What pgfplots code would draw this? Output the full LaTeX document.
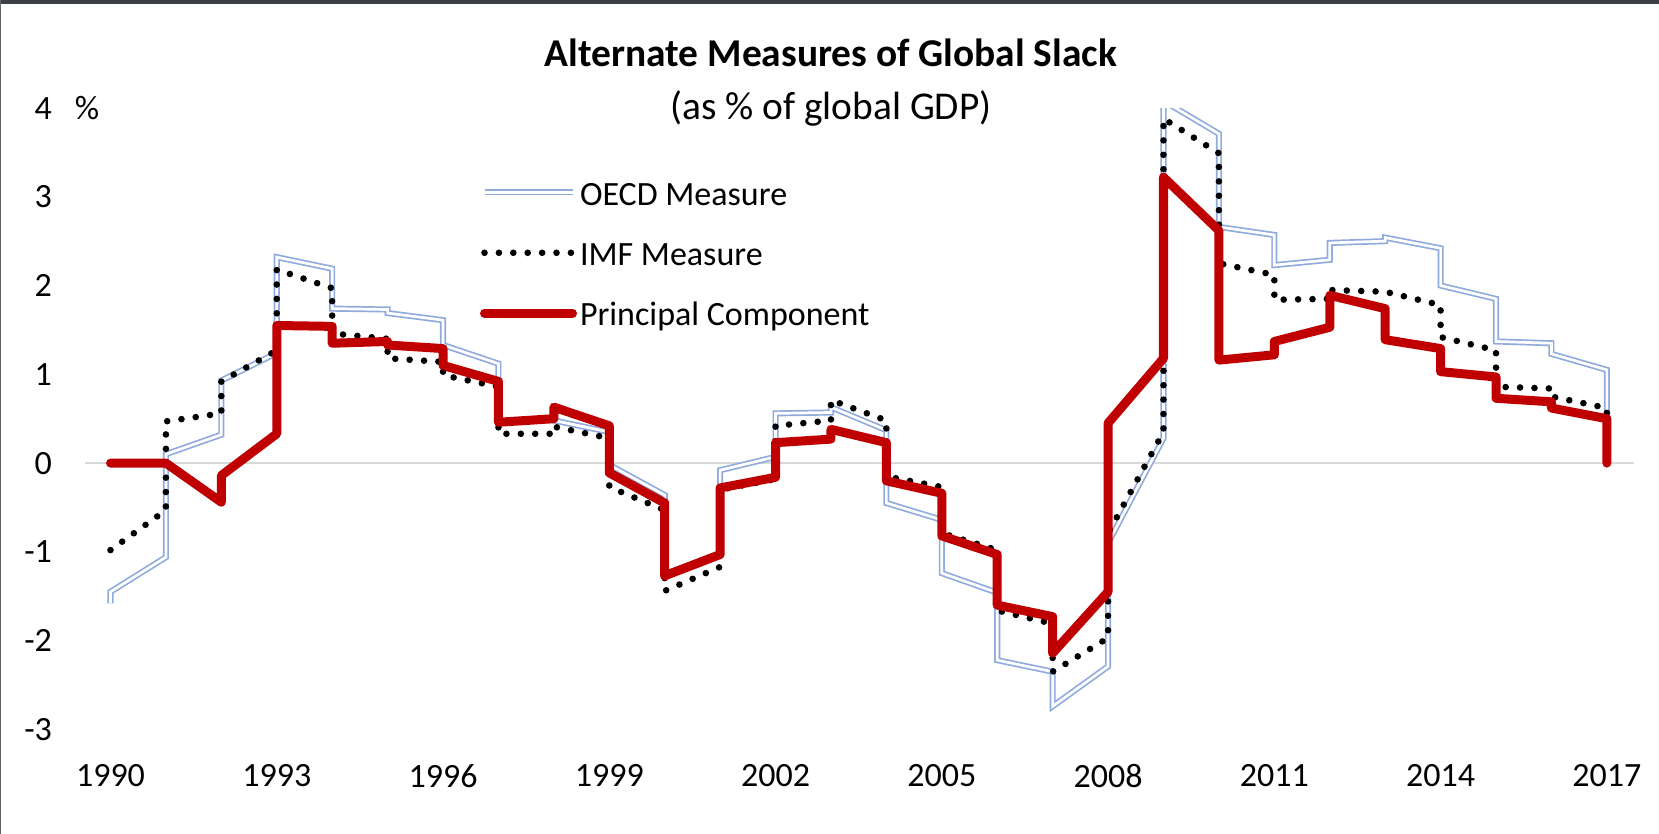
\documentclass[border=0pt]{standalone}
\usepackage{fontspec}
\setmainfont{Carlito}
\usepackage{pgfplots}
\pgfplotsset{compat=1.18}
\definecolor{pcred}{RGB}{192,0,0}
\definecolor{oecdblue}{RGB}{143,170,220}
\definecolor{zerogray}{RGB}{217,217,217}
\definecolor{band}{RGB}{60,63,70}
\begin{document}
\begin{tikzpicture}
\begin{axis}[
  scale only axis,
  width=774.5pt, height=310.7pt,
  xmin=1989.54, xmax=2017.49,
  ymin=-3, ymax=4,
  axis line style={draw=none},
  tick style={draw=none},
  xtick={1990,1993,1996,1999,2002,2005,2008,2011,2014,2017},
  xticklabels={1990,1993,1996,1999,2002,2005,2008,2011,2014,2017},
  ytick={-3,-2,-1,0,1,2,3,4},
  yticklabels={-3,-2,-1,0,1,2,3,{4\rlap{\hspace{11.5pt}\%}}},
  tick label style={font=\fontsize{17}{20}\selectfont},
  xticklabel style={yshift=-14pt},
  yticklabel style={xshift=-13pt},
  extra y ticks={0},
  extra y tick labels={},
  extra y tick style={grid=major, major grid style={draw=zerogray, line width=1pt}},
  legend style={at={(0.2550,0.879)}, anchor=north west, draw=none, fill=none,
    inner sep=0pt, outer sep=0pt, row sep=15.2pt, column sep=1.5pt,
    nodes={inner sep=0pt, text height=11pt, text depth=4pt, font=\fontsize{17}{20}\selectfont}},
  legend cell align=left,
  legend image code/.code={\path (0pt,0pt); \draw[#1] (0pt,2.9pt) -- (44pt,2.9pt);},
]
\coordinate (o) at (rel axis cs:0,0);
% OECD Measure
\addplot[draw=oecdblue, line width=0.85pt, double=white, double distance=1.35pt] coordinates {
(1990,-1.58) (1990,-1.45) (1991,-1.06) (1991,0.10) (1992,0.32) (1992,0.93) (1993,1.24)
(1993,2.32) (1994,2.19) (1994,1.74) (1995,1.73) (1995,1.69) (1996,1.61) (1996,1.33)
(1997,1.12) (1997,0.47) (1998,0.50) (1998,0.48) (1999,0.35) (1999,-0.02) (2000,-0.36)
(2000,-1.25) (2001,-1.02) (2001,-0.08) (2002,0.07) (2002,0.56) (2003,0.57) (2003,0.63)
(2004,0.37) (2004,-0.45) (2005,-0.64) (2005,-1.24) (2006,-1.46) (2006,-2.22) (2007,-2.35)
(2007,-2.74) (2008,-2.29) (2008,-0.90) (2009,0.28) (2009,4.08) (2010,3.71) (2010,2.66)
(2011,2.57) (2011,2.23) (2012,2.29) (2012,2.48) (2013,2.50) (2013,2.54) (2014,2.42)
(2014,2.00) (2015,1.85) (2015,1.37) (2016,1.35) (2016,1.23) (2017,1.05) (2017,0.50)
};
\addlegendentry{OECD Measure}
% IMF Measure
\addplot[draw=black, line width=3.3pt, line cap=round, dash pattern=on 0pt off 7.2pt] coordinates {
(1990,-0.98) (1991,-0.53) (1991,0.47) (1992,0.56) (1992,0.92) (1993,1.27) (1993,2.18)
(1994,1.97) (1994,1.46) (1995,1.40) (1995,1.18) (1996,1.14) (1996,0.99) (1997,0.86)
(1997,0.33) (1998,0.33) (1998,0.41) (1999,0.28) (1999,-0.27) (2000,-0.53) (2000,-1.44)
(2001,-1.17) (2001,-0.30) (2002,-0.18) (2002,0.42) (2003,0.48) (2003,0.71) (2004,0.48)
(2004,-0.15) (2005,-0.27) (2005,-0.79) (2006,-0.98) (2006,-1.66) (2007,-1.81) (2007,-2.35)
(2008,-1.97) (2008,-0.79) (2009,0.35) (2009,3.88) (2010,3.49) (2010,2.25) (2011,2.12)
(2011,1.84) (2012,1.85) (2012,1.95) (2013,1.93) (2014,1.78) (2014,1.42) (2015,1.27)
(2015,0.86) (2016,0.84) (2016,0.75) (2017,0.62) (2017,0.52)
};
\addlegendentry{IMF Measure}
% Principal Component
\addplot[draw=pcred, line width=4.5pt, line cap=round, line join=round] coordinates {
(1990,0) (1991,0) (1992,-0.44) (1992,-0.14) (1993,0.33) (1993,1.55) (1994,1.54)
(1994,1.35) (1995,1.37) (1995,1.33) (1996,1.29) (1996,1.10) (1997,0.92) (1997,0.46)
(1998,0.50) (1998,0.63) (1999,0.42) (1999,-0.11) (2000,-0.45) (2000,-1.27) (2001,-1.03)
(2001,-0.28) (2002,-0.16) (2002,0.23) (2003,0.27) (2003,0.38) (2004,0.23) (2004,-0.20)
(2005,-0.34) (2005,-0.82) (2006,-1.03) (2006,-1.60) (2007,-1.73) (2007,-2.14) (2008,-1.45)
(2008,0.45) (2009,1.18) (2009,3.22) (2010,2.62) (2010,1.16) (2011,1.22) (2011,1.37)
(2012,1.53) (2012,1.89) (2013,1.74) (2013,1.39) (2014,1.29) (2014,1.03) (2015,0.97)
(2015,0.73) (2016,0.69) (2016,0.62) (2017,0.50) (2017,0)
};
\addlegendentry{Principal Component}
\end{axis}
\path ([shift={(-42.5pt,364.7pt)}]o) rectangle ([shift={(787pt,-52.3pt)}]o);
\fill[band] ([shift={(-42.5pt,364.7pt)}]o) rectangle ([shift={(787pt,362.7pt)}]o);
\fill[band!80] ([shift={(-42.5pt,364.7pt)}]o) rectangle ([shift={(-41.75pt,-52.3pt)}]o);
\node[font=\fontsize{19.7}{23}\selectfont\bfseries] at ([shift={(373pt,338.2pt)}]o) {Alternate Measures of Global Slack};
\node[font=\fontsize{19.7}{23}\selectfont] at ([shift={(373pt,310.7pt)}]o) {(as \% of global GDP)};
\end{tikzpicture}
\end{document}
